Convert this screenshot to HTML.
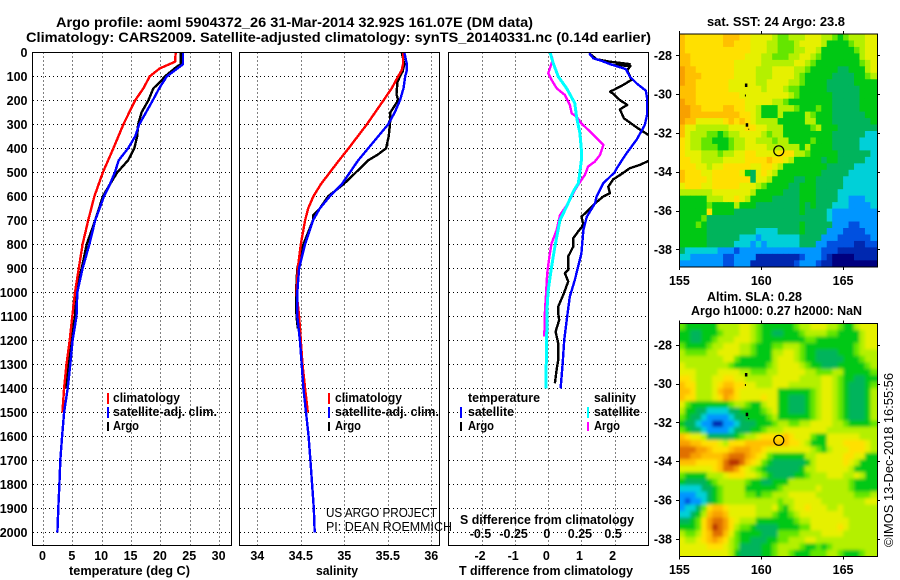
<!DOCTYPE html>
<html lang="en">
<head>
<meta charset="utf-8">
<title>Argo profile 5904372_26</title>
<style>
html,body{margin:0;padding:0;background:#fff;}
svg{display:block;font-family:"Liberation Sans",sans-serif;}
text{fill:#000;}
.b{font-weight:bold;font-size:12.5px;}
.t{font-weight:bold;font-size:14px;}
.r{font-weight:normal;font-size:12.5px;}
</style>
</head>
<body>
<svg id="chart" xmlns="http://www.w3.org/2000/svg" width="900" height="580" viewBox="0 0 900 580">
<rect width="900" height="580" fill="#fff"/>
<defs>
<clipPath id="clip3"><rect x="448.5" y="52.5" width="200" height="493"/></clipPath>
<clipPath id="clip-mapSST"><rect x="679.5" y="34" width="198" height="233"/></clipPath>
<clipPath id="clip-mapSLA"><rect x="679.5" y="323.5" width="198" height="233"/></clipPath>
<filter id="smooth" filterUnits="userSpaceOnUse" x="660" y="300" width="240" height="280"><feGaussianBlur stdDeviation="1.6"/></filter>
</defs>

<text class="t" x="56" y="27" textLength="477" lengthAdjust="spacingAndGlyphs">Argo profile: aoml 5904372_26 31-Mar-2014 32.92S 161.07E (DM data)</text>
<text class="t" x="26" y="42" textLength="625" lengthAdjust="spacingAndGlyphs">Climatology: CARS2009. Satellite-adjusted climatology: synTS_20140331.nc (0.14d earlier)</text>

<g id="panelT"></g>
<g id="panelS"></g>
<g id="panelD"></g>
<g id="mapSST"></g>
<g id="mapSLA"></g>

<text class="b" x="69" y="575" textLength="121" lengthAdjust="spacingAndGlyphs">temperature (deg C)</text>
<text class="b" x="316" y="575" textLength="42" lengthAdjust="spacingAndGlyphs">salinity</text>
<text class="b" x="459" y="575" textLength="174" lengthAdjust="spacingAndGlyphs">T difference from climatology</text>
<text class="b" x="460" y="524" textLength="174" lengthAdjust="spacingAndGlyphs">S difference from climatology</text>

<g>
<rect x="107" y="393" width="2" height="11" fill="#f00"/>
<text class="b" x="113" y="402" textLength="67" lengthAdjust="spacingAndGlyphs">climatology</text>
<rect x="107" y="407" width="2" height="11" fill="#00f"/>
<text class="b" x="113" y="416" textLength="104" lengthAdjust="spacingAndGlyphs">satellite-adj. clim.</text>
<rect x="107" y="422" width="2" height="9" fill="#000"/>
<text class="b" x="113" y="430" textLength="26" lengthAdjust="spacingAndGlyphs">Argo</text>
</g>
<g>
<rect x="328" y="393" width="2" height="11" fill="#f00"/>
<text class="b" x="335" y="402" textLength="67" lengthAdjust="spacingAndGlyphs">climatology</text>
<rect x="328" y="407" width="2" height="11" fill="#00f"/>
<text class="b" x="335" y="416" textLength="104" lengthAdjust="spacingAndGlyphs">satellite-adj. clim.</text>
<rect x="328" y="422" width="2" height="9" fill="#000"/>
<text class="b" x="335" y="430" textLength="26" lengthAdjust="spacingAndGlyphs">Argo</text>
</g>
<g>
<text class="b" x="468" y="402" textLength="72" lengthAdjust="spacingAndGlyphs">temperature</text>
<rect x="460" y="407" width="2" height="11" fill="#00f"/>
<text class="b" x="468" y="416" textLength="46" lengthAdjust="spacingAndGlyphs">satellite</text>
<rect x="460" y="422" width="2" height="9" fill="#000"/>
<text class="b" x="468" y="430" textLength="26" lengthAdjust="spacingAndGlyphs">Argo</text>
<text class="b" x="594" y="402" textLength="42" lengthAdjust="spacingAndGlyphs">salinity</text>
<rect x="587" y="407" width="2" height="11" fill="#0ff"/>
<text class="b" x="594" y="416" textLength="46" lengthAdjust="spacingAndGlyphs">satellite</text>
<rect x="587" y="422" width="2" height="9" fill="#f0f"/>
<text class="b" x="594" y="430" textLength="26" lengthAdjust="spacingAndGlyphs">Argo</text>
</g>

<text class="r" x="326" y="517" textLength="111" lengthAdjust="spacingAndGlyphs">US ARGO PROJECT</text>
<text class="r" x="326" y="531" textLength="126" lengthAdjust="spacingAndGlyphs">PI: DEAN ROEMMICH</text>

<text class="b" x="707" y="26" textLength="138" lengthAdjust="spacingAndGlyphs">sat. SST: 24 Argo: 23.8</text>
<text class="b" x="707" y="301" textLength="95" lengthAdjust="spacingAndGlyphs">Altim. SLA: 0.28</text>
<text class="b" x="691" y="315" textLength="171" lengthAdjust="spacingAndGlyphs">Argo h1000: 0.27 h2000: NaN</text>
<text class="r" transform="translate(893,547) rotate(-90)" textLength="174" lengthAdjust="spacingAndGlyphs">©IMOS 13-Dec-2018 16:55:56</text>
</svg>

<script>
// ---------- temperature panel data ----------
const climTDepth = [0,39,67,100,150,200,300,400,500,600,700,800,900,1000,1100,1200,1300,1400,1500];
const climT = [22.6,22.5,19.9,18.2,17.1,15.7,13.7,12.0,10.2,8.75,7.7,6.75,6.1,5.45,5.0,4.55,4.0,3.6,3.3];
const satTDepth = [0,50,60,100,150,200,300,350,400,450,500,550,600,700,800,900,1000,1100,1200,1300,1400,1500,1600,1700,1800,1900,2000];
const satT = [23.85,23.85,23.3,21.1,19.8,18.7,16.4,15.7,14.5,12.9,12.25,11.4,10.4,8.9,7.9,6.75,5.85,5.7,5.05,4.65,4.2,3.6,3.25,2.95,2.8,2.6,2.45];
const argoTDepth = [0,50,60,100,125,150,200,250,300,350,400,450,480,500,550,600,700,800,900,1000,1100,1200,1300,1400];
const argoT = [23.5,23.5,22.8,20.8,19.9,18.8,17.95,16.8,16.2,16.05,15.55,14.5,13.4,12.65,11.4,10.2,8.9,7.45,6.6,5.6,5.45,4.75,4.3,3.8];
const tempTicks = [0,5,10,15,20,25,30];

// ---------- salinity panel data ----------
const climSDepth = [0,50,75,100,150,200,300,400,450,500,550,600,650,700,800,900,1000,1100,1200,1300,1400,1500];
const climS = [35.675,35.675,35.66,35.62,35.545,35.45,35.26,35.05,34.94,34.835,34.73,34.645,34.585,34.55,34.50,34.465,34.45,34.48,34.5,34.52,34.55,34.58];
const satSDepth = [0,50,75,100,150,200,250,300,400,450,500,550,600,650,700,800,900,1000,1100,1200,1300,1400,1500,1600,1700,1800,1900,2000];
const satS = [35.69,35.72,35.72,35.70,35.68,35.64,35.58,35.505,35.275,35.16,35.065,34.97,34.835,34.72,34.64,34.55,34.48,34.46,34.46,34.49,34.51,34.53,34.56,34.59,34.61,34.63,34.65,34.66];
const argoSDepth = [0,50,80,100,125,175,200,225,250,300,350,400,425,450,500,550,600,650,680,700,750,800,900,1000,1100,1150];
const argoS = [35.66,35.69,35.67,35.64,35.61,35.60,35.62,35.575,35.53,35.525,35.51,35.48,35.39,35.275,35.135,34.99,34.815,34.72,34.64,34.64,34.585,34.53,34.46,34.445,34.45,34.465];
const salTicks = [34,34.5,35,35.5,36];
const salTickLabels = ['34','34.5','35','35.5','36'];

// ---------- difference panel data ----------
const diffSatTDepth = [4,25,36,49,70,101,129,160,198,254,303,365,421,484,500,546,600,629,685,740,837,949,1018,1100,1200,1300,1400];
const diffSatT = [1.23,1.36,1.61,1.86,2.34,2.46,2.66,2.94,2.99,2.99,2.91,2.66,2.36,2.06,2.0,1.66,1.46,1.41,1.16,1.06,1.0,0.8,0.65,0.57,0.48,0.43,0.37];
const diffArgoTDepth = [7,29,39,49,53,57,74,115,136,154,164,171,199,219,238,275,317,344,400,453,469,483,507,529,539,560,587,601,629,664,685,719,747,775,810,851,907,921,955,1004,1060,1088,1115,1164,1212,1282,1323,1379];
const diffArgoT = [1.26,1.46,1.86,2.46,2.01,2.48,2.38,2.51,2.26,2.01,1.86,1.94,2.16,2.38,2.16,2.28,2.71,3.02,3.4,3.02,2.76,2.46,2.21,1.96,1.91,1.81,1.86,1.66,1.41,1.16,1.0,1.06,0.9,0.75,0.75,0.6,0.6,0.5,0.6,0.47,0.3,0.3,0.33,0.22,0.3,0.3,0.25,0.2];
const diffSatSDepth = [0,46,101,150,212,268,337,407,449,518,546,581,643,699,810,893,990,1045,1200,1400];
const diffSatS = [0.0125,0.038,0.075,0.138,0.2,0.213,0.238,0.25,0.25,0.234,0.226,0.188,0.138,0.088,0.05,0.025,0,-0.0075,-0.0125,-0.018];
const diffArgoSDepth = [4,32,87,115,150,178,219,254,268,296,344,386,428,456,476,511,532,574,629,678,740,796,851,921,1018,1073,1184];
const diffArgoS = [0.018,0.033,0,0.025,0.063,0.125,0.163,0.176,0.213,0.25,0.34,0.415,0.39,0.35,0.3,0.276,0.25,0.2,0.15,0.088,0.063,0.025,0.008,-0.008,-0.018,-0.025,-0.03];
const diffTTicks = [-2,-1,0,1,2];
const diffSTicks = [-0.5,-0.25,0,0.25,0.5];
const diffSTickLabels = ['-0.5','-0.25','0','0.25','0.5'];
const depthTicks = [0,100,200,300,400,500,600,700,800,900,1000,1100,1200,1300,1400,1500,1600,1700,1800,1900,2000];

// ---------- map data (colour level 0 = coldest/lowest ... 14 = warmest/highest) ----------
const lonTicks = [155,160,165];
const latTicks = [-28,-30,-32,-34,-36,-38];
const floatLon = 161.07;
const floatLat = -32.92;
const sstCells = [
[11,10,10,10,10,10,10,10,11,11,11,10,10,9,9,9,9,8,7,7,8,8,8,9,9,9,8,8,7,6,7,8,8,8,9,9],
[11,10,10,10,10,10,10,10,11,11,10,10,10,9,9,9,8,8,7,7,7,8,9,9,9,9,8,6,6,6,6,7,8,8,9,9],
[11,10,10,10,10,10,10,10,10,10,10,10,10,9,9,9,8,8,7,7,7,8,8,9,9,8,6,6,6,6,6,6,7,8,9,9],
[11,11,10,10,10,10,10,10,10,10,10,10,9,9,9,8,8,7,7,7,8,8,9,9,8,7,6,6,6,6,6,6,6,8,9,9],
[11,11,10,10,10,10,10,10,10,10,9,9,9,9,9,8,8,8,8,8,8,9,9,8,7,6,6,6,6,6,6,6,6,7,8,9],
[12,11,11,10,10,10,10,10,10,10,9,9,9,9,8,8,8,9,9,9,9,8,8,7,6,6,6,6,6,5,5,6,6,6,8,9],
[12,11,11,11,10,10,10,10,10,10,9,9,9,9,8,8,8,9,9,9,9,8,7,6,6,6,6,6,5,5,5,5,6,6,7,8],
[12,11,11,10,10,10,10,10,10,9,9,9,9,9,8,8,9,9,9,9,8,8,7,6,6,6,6,5,5,5,5,5,6,6,6,6],
[11,11,11,10,10,10,10,10,10,9,9,9,9,9,9,8,9,9,9,8,7,7,6,6,6,6,6,5,5,5,5,5,5,6,6,6],
[11,11,11,10,10,10,10,10,10,10,10,9,9,9,9,9,9,9,9,9,8,7,6,6,6,6,6,6,5,5,5,5,5,6,6,6],
[12,11,11,10,10,10,10,10,10,10,10,10,9,9,9,9,9,8,8,7,6,6,6,6,6,6,6,6,5,5,5,5,5,6,6,6],
[12,12,11,11,10,10,10,10,11,11,10,10,9,9,8,6,6,6,8,8,8,7,6,6,6,7,6,6,5,5,5,5,5,6,6,6],
[12,12,11,11,11,11,11,11,11,11,11,10,10,9,8,6,6,6,8,6,6,6,6,8,7,6,6,6,5,5,5,5,5,5,6,6],
[12,11,11,9,9,9,9,9,10,11,10,11,10,9,8,8,8,8,6,6,6,6,6,8,8,6,6,6,5,5,5,5,5,5,5,6],
[11,9,9,8,8,8,8,8,8,9,9,9,10,10,9,9,8,8,8,6,6,6,6,6,7,8,6,6,6,5,5,5,5,5,5,5],
[11,9,8,8,8,7,7,6,7,8,8,9,9,9,9,8,7,8,8,6,6,6,6,6,6,6,6,6,5,5,5,5,5,5,4,4],
[10,9,8,8,7,7,6,6,6,7,8,8,9,9,8,8,8,7,8,8,6,6,6,6,7,6,6,6,5,5,5,5,5,4,4,4],
[10,9,8,8,7,7,7,6,6,7,8,8,9,9,9,9,8,8,8,8,8,8,6,8,6,6,6,6,5,5,5,5,5,4,4,4],
[10,9,9,9,8,8,8,7,8,8,9,9,10,10,9,9,9,9,10,10,10,8,8,7,6,6,6,6,6,5,5,5,5,5,5,4],
[10,10,9,9,8,8,8,8,9,9,9,9,10,10,10,10,11,10,10,9,8,6,6,6,6,6,5,6,6,5,5,5,5,5,4,4],
[10,10,10,9,9,8,9,9,10,10,10,10,10,9,9,10,10,9,8,6,6,6,6,6,6,6,6,5,5,5,5,5,4,4,4,4],
[11,10,10,10,9,9,10,10,10,10,10,9,6,5,9,10,9,8,6,6,6,6,6,6,6,6,5,5,5,5,5,4,4,4,4,4],
[11,10,10,10,10,9,10,10,10,10,10,10,10,5,9,9,8,6,6,6,6,5,5,6,6,5,5,5,5,5,4,4,4,4,4,4],
[9,10,10,10,9,9,10,10,10,10,10,9,9,9,8,7,6,6,6,6,5,5,6,6,6,5,5,5,5,5,4,4,4,4,4,4],
[8,8,8,8,8,8,9,9,9,9,9,9,9,8,6,6,6,6,6,5,5,5,6,6,6,5,5,5,5,4,4,4,4,4,4,4],
[6,6,6,6,6,8,8,8,9,9,10,9,8,6,6,6,6,5,5,5,5,5,6,6,6,5,5,5,5,4,4,3,3,3,4,4],
[6,6,6,6,6,7,6,6,6,6,8,6,6,6,5,5,5,5,5,5,5,5,6,5,6,5,5,5,4,4,4,3,3,3,3,4],
[6,6,6,6,6,10,6,6,6,6,5,5,5,5,5,5,5,5,5,5,5,5,6,5,5,5,5,4,3,3,3,3,3,3,3,3],
[6,6,6,6,7,5,5,5,5,5,5,5,5,5,5,5,5,5,5,5,5,5,5,5,5,5,5,4,3,3,3,3,3,3,3,3],
[6,6,6,7,6,5,5,5,5,5,5,5,5,5,5,5,5,5,5,5,5,5,6,5,5,5,5,5,3,3,3,2,2,3,3,3],
[6,6,6,6,6,5,5,5,5,5,5,5,5,5,4,4,4,4,5,5,5,5,6,5,5,5,5,3,3,3,2,2,2,2,3,3],
[6,6,6,6,6,5,5,5,5,5,5,4,4,4,3,4,4,4,4,4,4,4,5,5,5,5,3,3,3,2,2,2,2,2,2,3],
[6,6,6,6,6,5,5,5,5,5,4,4,4,3,4,3,4,4,4,4,4,4,5,5,5,3,3,2,2,2,2,2,1,1,2,2],
[5,4,4,4,4,4,4,3,3,3,2,3,3,3,3,3,3,3,3,3,3,3,3,3,3,3,2,2,2,1,1,1,1,1,1,1],
[4,4,3,3,3,3,3,3,2,2,3,3,3,3,1,1,1,1,1,1,1,1,2,3,3,3,2,1,0,0,0,0,1,1,1,1],
[3,3,3,3,3,3,3,3,2,2,3,3,3,1,1,1,1,1,1,1,1,2,3,3,3,2,1,1,0,0,0,0,0,0,0,0]
];
const slaCells = [
[7,6,6,6,6,6,6,8,8,8,8,9,9,8,7,6,6,6,6,6,6,7,8,8,9,9,9,8,8,7,6,6,8,9,9,9],
[6,6,5,5,6,6,6,7,8,8,8,9,9,8,7,6,6,5,5,6,6,6,7,8,8,8,8,7,7,6,6,6,6,8,9,9],
[6,6,5,5,6,6,7,8,8,8,9,9,9,8,7,6,6,6,6,6,6,6,6,7,7,6,6,6,6,6,6,6,6,8,9,9],
[7,6,6,6,6,7,8,8,9,9,9,8,8,7,6,6,6,7,7,8,8,8,7,6,6,6,6,6,6,6,6,6,7,8,9,9],
[8,7,7,7,7,8,8,9,9,9,9,8,8,7,6,6,6,8,8,9,9,8,7,6,6,5,5,5,5,6,6,6,7,8,8,8],
[8,8,8,8,8,8,8,8,9,9,7,6,6,6,6,6,6,8,9,9,9,8,7,6,6,5,5,5,5,5,6,6,6,7,8,8],
[9,8,8,8,8,8,8,8,8,7,6,6,6,6,6,6,7,8,9,9,9,9,8,7,6,6,5,5,5,6,6,6,6,6,7,8],
[9,9,9,8,8,8,8,9,9,9,9,8,8,7,7,7,8,8,9,9,9,9,9,8,8,7,7,7,8,8,6,6,6,6,6,7],
[10,10,9,8,8,8,9,9,10,10,9,9,8,8,8,8,8,9,9,9,9,9,8,8,8,8,9,9,8,7,6,6,5,5,6,6],
[11,10,10,8,8,8,9,10,11,11,10,10,9,9,8,8,8,9,9,9,8,8,8,8,8,8,9,9,8,7,6,5,5,5,6,7],
[11,11,10,8,8,8,9,11,12,12,10,9,9,9,9,9,9,9,6,6,6,6,6,6,7,8,9,9,8,7,6,5,5,5,6,8],
[11,10,10,8,8,8,9,10,12,11,10,9,9,9,9,10,9,9,6,6,5,5,5,6,7,8,9,9,8,7,6,5,5,5,6,8],
[9,7,6,6,6,6,6,6,6,7,8,8,7,6,6,8,9,9,6,6,5,5,5,6,7,8,9,9,8,7,6,5,5,5,6,8],
[8,6,6,5,5,4,4,4,4,5,5,6,6,6,6,7,8,9,6,6,5,5,5,6,7,8,9,9,8,7,6,5,5,5,6,8],
[7,6,5,5,4,3,3,3,3,4,5,5,6,6,6,6,7,8,6,6,6,6,6,6,7,8,9,9,8,7,6,5,5,5,6,8],
[6,5,5,4,3,3,1,1,3,3,4,5,5,5,6,6,6,7,8,8,7,7,8,8,9,9,9,9,8,8,7,6,6,6,6,7],
[7,6,5,5,4,3,3,3,3,4,5,5,5,6,6,7,8,8,8,9,9,9,9,9,9,9,9,8,8,8,8,8,8,8,8,8],
[11,10,9,9,8,5,5,5,5,5,6,7,8,8,9,10,10,10,10,11,10,9,9,9,7,6,6,9,9,9,9,9,9,8,8,8],
[12,12,11,11,10,10,10,9,8,10,10,10,11,11,11,11,11,11,11,11,10,10,9,8,6,6,6,9,9,9,10,10,10,10,9,8],
[13,13,13,12,12,11,10,10,10,11,12,12,12,11,11,10,9,9,9,9,9,9,9,9,8,7,6,8,9,9,9,10,10,10,9,8],
[13,13,12,12,11,11,11,11,12,13,13,13,12,11,10,9,7,6,6,6,6,6,6,8,8,9,9,9,9,9,10,10,9,9,6,6],
[11,11,11,10,10,10,10,11,13,14,14,13,11,10,9,7,6,5,5,5,5,5,5,6,8,9,9,9,9,9,10,9,8,6,6,6],
[9,9,9,9,9,9,10,11,13,13,12,10,9,8,7,6,5,5,5,5,5,5,6,8,8,9,9,9,9,9,9,8,6,6,6,6],
[7,6,6,6,6,8,8,8,9,10,10,10,9,9,8,7,6,5,5,5,5,6,6,7,8,8,8,9,9,9,8,8,9,8,6,6],
[6,5,5,5,5,6,7,8,8,8,8,8,7,6,6,5,5,6,6,6,8,8,8,8,8,8,8,8,8,8,8,7,6,6,6,6],
[4,4,4,4,5,5,6,7,8,8,8,8,6,6,6,6,6,6,7,8,8,8,8,8,8,9,8,8,8,8,8,7,6,6,6,6],
[3,3,3,4,4,5,6,7,8,8,8,8,7,7,6,7,7,8,8,8,9,9,9,9,9,8,8,8,8,8,8,8,7,7,7,8],
[3,2,3,3,4,5,6,7,8,8,8,8,8,8,8,8,8,8,7,8,8,9,9,9,9,9,8,8,8,8,8,8,8,8,9,9],
[3,4,4,5,7,10,11,11,10,9,9,9,9,9,8,8,8,9,7,6,8,9,9,10,9,9,9,8,8,9,8,8,8,8,8,8],
[4,4,5,6,8,11,12,12,11,9,9,9,9,9,8,8,8,7,6,6,7,8,9,9,9,9,9,9,9,9,8,8,8,8,8,8],
[5,5,6,7,10,12,13,13,12,10,9,8,8,8,6,6,6,6,6,6,6,7,8,8,9,9,9,9,9,9,9,8,8,8,8,8],
[6,6,6,7,10,12,14,13,12,10,8,7,7,6,5,5,5,5,6,6,6,6,7,7,9,9,9,9,9,10,9,8,8,8,8,8],
[8,7,7,8,10,11,13,13,11,9,7,6,6,6,6,5,5,5,7,7,7,7,8,8,8,8,9,9,9,9,8,8,8,8,8,8],
[9,8,8,9,10,11,12,11,10,8,7,6,6,5,5,5,6,6,7,7,8,8,8,9,9,8,8,8,8,8,8,8,8,8,8,8],
[9,9,9,9,9,10,10,10,9,8,7,5,5,5,5,6,6,7,8,8,8,8,7,6,6,7,6,7,8,8,8,8,8,8,8,8],
[9,9,9,9,9,9,9,9,9,8,6,5,5,5,5,6,6,7,8,8,7,6,6,6,7,7,7,8,8,7,6,6,6,7,8,8]
];
const levelColours = ['#00007f','#0028b0','#0050e0','#0096ff','#00d0d8','#00b45c','#00c814','#64e600','#b4f000','#e6f000','#ffe000','#ffc000','#f8a000','#e07000','#b83000'];
const landLon = [159,159,159.05,159.2];
const landLat = [-29.45,-30.02,-31.5,-31.78];
const landW = [2.5,1,2.5,1];
const landH = [3.5,2,3.5,1];

// ---------- helpers ----------
const NS = 'http://www.w3.org/2000/svg';
function mk(parent, tag, attrs){
  const el = document.createElementNS(NS, tag);
  for (const k in attrs) el.setAttribute(k, attrs[k]);
  parent.appendChild(el);
  return el;
}
function label(parent, name, str, x, y, anchor, cls){
  const el = mk(parent, 'text', {x:x, y:y, 'text-anchor':anchor, 'class':cls || 'b'});
  el.textContent = str;
  
  
  return el;
}
const depthY = d => 52.3 + d * 0.24;
const PANEL_TOP = 52.5, PANEL_BOTTOM = 545.5;

function gridLine(parent, name, x1, y1, x2, y2){
  const el = mk(parent, 'line', {x1:x1, y1:y1, x2:x2, y2:y2, stroke:'#000', 'stroke-width':1, 'stroke-dasharray':'1 3', 'shape-rendering':'crispEdges'});
  
  
}
function frame(parent, name, x, y, w, h){
  const el = mk(parent, 'rect', {x:x, y:y, width:w, height:h, fill:'none', stroke:'#000', 'stroke-width':1.3, 'shape-rendering':'crispEdges'});
  
  
}
function series(parent, name, xs, depths, xFn, colour, width, clip){
  const pts = xs.map((v, i) => xFn(v).toFixed(1) + ',' + depthY(depths[i]).toFixed(1)).join(' ');
  const el = mk(parent, 'polyline', {points:pts, fill:'none', stroke:colour, 'stroke-width':width, 'stroke-linejoin':'round', 'shape-rendering':'crispEdges'});
  if (clip) el.setAttribute('clip-path', 'url(#' + clip + ')');
  
  
}
function depthGrid(parent, x0, x1){
  depthTicks.slice(1).forEach(d => {
    gridLine(parent, 'depth-gridline', x0, Math.round(depthY(d)) + 0.5, x1, Math.round(depthY(d)) + 0.5);
  });
}

// ---------- temperature panel ----------
const tempX = t => 43 + t * 5.87;
const gT = document.getElementById('panelT');
depthGrid(gT, 33, 231);
tempTicks.forEach(t => {
  gridLine(gT, 'temperature-gridline', Math.round(tempX(t)) + 0.5, PANEL_TOP, Math.round(tempX(t)) + 0.5, PANEL_BOTTOM);
  label(gT, 'temperature-tick-label', String(t), tempX(t) - 0.5, 560, 'middle');
});
depthTicks.forEach(d => label(gT, 'depth-tick-label', String(d), 27.5, depthY(d) + 4.5, 'end'));
series(gT, 'argo-temperature-line', argoT, argoTDepth, tempX, '#000', 2.4);
series(gT, 'climatology-temperature-line', climT, climTDepth, tempX, '#f00', 2.4);
series(gT, 'satellite-temperature-line', satT, satTDepth, tempX, '#00f', 2.4);
frame(gT, 'temperature-plot-frame', 32.5, 52.5, 199, 493);

// ---------- salinity panel ----------
const salX = s => 257.3 + (s - 34) * 87;
const gS = document.getElementById('panelS');
depthGrid(gS, 240, 439);
salTicks.forEach((s, i) => {
  gridLine(gS, 'salinity-gridline', Math.round(salX(s)) + 0.5, PANEL_TOP, Math.round(salX(s)) + 0.5, PANEL_BOTTOM);
  label(gS, 'salinity-tick-label', salTickLabels[i], salX(s), 560, 'middle');
});
series(gS, 'argo-salinity-line', argoS, argoSDepth, salX, '#000', 2.4);
series(gS, 'climatology-salinity-line', climS, climSDepth, salX, '#f00', 2.4);
series(gS, 'satellite-salinity-line', satS, satSDepth, salX, '#00f', 2.4);
frame(gS, 'salinity-plot-frame', 239.5, 52.5, 200, 493);

// ---------- difference panel ----------
const diffTX = v => 548.3 + v * 33.15;
const diffSX = v => 548.3 + v * 132.6;
const gD = document.getElementById('panelD');
depthGrid(gD, 449, 648);
diffTTicks.forEach(t => {
  gridLine(gD, 'difference-gridline', Math.round(diffTX(t)) + 0.5, PANEL_TOP, Math.round(diffTX(t)) + 0.5, PANEL_BOTTOM);
  label(gD, 't-difference-tick-label', String(t), diffTX(t) - 2, 560, 'middle');
});
diffSTicks.forEach((s, i) => {
  label(gD, 's-difference-tick-label', diffSTickLabels[i], diffSX(s) - 1.5, 538, 'middle');
});
series(gD, 'argo-t-difference-line', diffArgoT, diffArgoTDepth, diffTX, '#000', 2.4, 'clip3');
series(gD, 'satellite-t-difference-line', diffSatT, diffSatTDepth, diffTX, '#00f', 2.4, 'clip3');
series(gD, 'argo-s-difference-line', diffArgoS, diffArgoSDepth, diffSX, '#f0f', 2.4, 'clip3');
series(gD, 'satellite-s-difference-line', diffSatS, diffSatSDepth, diffSX, '#0ff', 3, 'clip3');
frame(gD, 'difference-plot-frame', 448.5, 52.5, 200, 493);

// ---------- maps ----------
function drawMap(gid, cells, top, labelY, smooth){
  const g = document.getElementById(gid);
  const lonX = lon => 679.4 + (lon - 155) * 16.37;
  const latY = lat => top + (-26.9 - lat) * 19.4;
  const clipGroup = mk(g, 'g', {'clip-path':'url(#clip-' + gid + ')'});
  
  
  const cellGroup = mk(clipGroup, 'g', {});
  if (smooth) cellGroup.setAttribute('filter', 'url(#smooth)');
  
  
  cells.forEach((row, r) => {
    row.forEach((v, c) => {
      const lon = 155 + c / 3;
      const lat = -26.9 - r / 3;
      // border cells run past the frame so smoothing does not fade at the edges
      const padL = c === 0 ? 10 : 0;
      const padR = c === row.length - 1 ? 10 : 0;
      const padT = r === 0 ? 10 : 0;
      const padB = r === cells.length - 1 ? 10 : 0;
      const cell = mk(cellGroup, 'rect', {x:(lonX(lon) - padL).toFixed(2), y:(latY(lat) - padT).toFixed(2), width:5.96 + padL + padR, height:6.97 + padT + padB, fill:levelColours[Math.max(0, Math.min(14, v))]});
      
      
    });
  });
  landLon.forEach((lon, i) => {
    const land = mk(g, 'rect', {x:lonX(lon).toFixed(1), y:latY(landLat[i]).toFixed(1), width:landW[i], height:landH[i], fill:'#000'});
    
    
  });
  const mapBottom = top + 233;
  lonTicks.forEach(lon => {
    const x = Math.round(lonX(lon)) + 0.5;
    const up = mk(g, 'line', {x1:x, y1:top - 3, x2:x, y2:top, stroke:'#000', 'shape-rendering':'crispEdges'});
    
    
    const down = mk(g, 'line', {x1:x, y1:mapBottom, x2:x, y2:mapBottom + 3, stroke:'#000', 'shape-rendering':'crispEdges'});
    
    
    label(g, 'longitude-tick-label', String(lon), lonX(lon), labelY, 'middle', 'b');
  });
  latTicks.forEach(lat => {
    const y = Math.round(latY(lat)) + 0.5;
    const left = mk(g, 'line', {x1:676, y1:y, x2:679, y2:y, stroke:'#000', 'shape-rendering':'crispEdges'});
    
    
    const right = mk(g, 'line', {x1:877, y1:y, x2:880, y2:y, stroke:'#000', 'shape-rendering':'crispEdges'});
    
    
    label(g, 'latitude-tick-label', String(lat), 672, latY(lat) + 4.5, 'end');
  });
  const marker = mk(g, 'circle', {cx:lonX(floatLon).toFixed(1), cy:latY(floatLat).toFixed(1), r:5, fill:'none', stroke:'#000', 'stroke-width':1.2});
  
  
  frame(g, 'map-frame', 679.5, top, 198, 233);
}
drawMap('mapSST', sstCells, 34, 285, false);
drawMap('mapSLA', slaCells, 323.5, 574, true);
</script>
</body>
</html>
